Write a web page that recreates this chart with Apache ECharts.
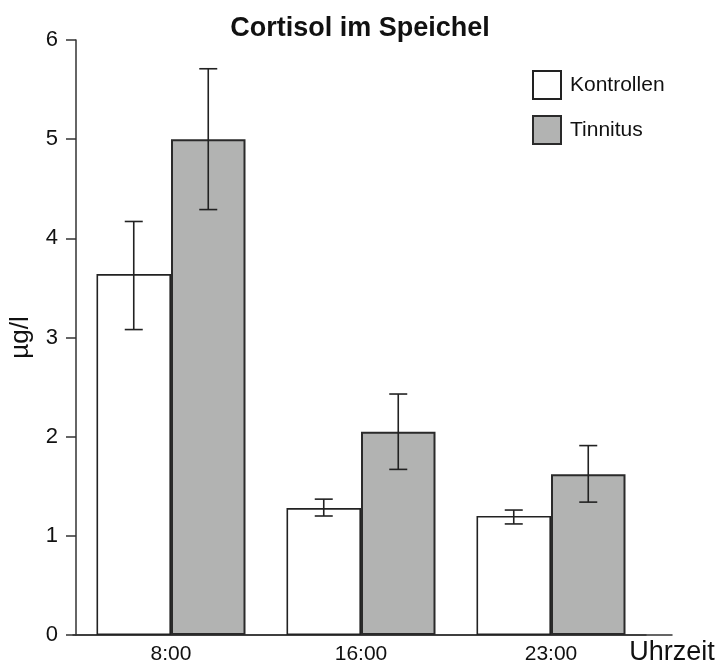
<!DOCTYPE html>
<html>
<head>
<meta charset="utf-8">
<script src="https://cdn.jsdelivr.net/npm/echarts@6/dist/echarts.min.js"></script>
<style>html,body{margin:0;padding:0;background:#fff}#c{width:720px;height:666px}</style>
</head>
<body>
<div id="c"></div>
<script>
var categories = ['8:00', '16:00', '23:00'];
var seriesNames = ['Kontrollen', 'Tinnitus'];
var kontrollen = [3.64, 1.28, 1.20];
var tinnitus = [5.00, 2.05, 1.62];
var kontrollenLow = [3.08, 1.20, 1.12];
var kontrollenHigh = [4.17, 1.37, 1.26];
var tinnitusLow = [4.29, 1.67, 1.34];
var tinnitusHigh = [5.71, 2.43, 1.91];
var yTicks = [0, 1, 2, 3, 4, 5, 6];

var BAR_W = 74.5;
var FONT = 'Liberation Sans, Arial, Helvetica, sans-serif';

function errData(lo, hi) {
  return categories.map(function (c, i) { return [i, lo[i], hi[i]]; });
}
function errRender(sign) {
  return function (params, api) {
    var x = api.value(0);
    var pLo = api.coord([x, api.value(1)]);
    var pHi = api.coord([x, api.value(2)]);
    var cx = pLo[0] + sign * BAR_W / 2;
    var cap = 9;
    var st = { stroke: '#222', lineWidth: 1.6 };
    return {
      type: 'group',
      children: [
        { type: 'line', shape: { x1: cx, y1: pLo[1], x2: cx, y2: pHi[1] }, style: st },
        { type: 'line', shape: { x1: cx - cap, y1: pHi[1], x2: cx + cap, y2: pHi[1] }, style: st },
        { type: 'line', shape: { x1: cx - cap, y1: pLo[1], x2: cx + cap, y2: pLo[1] }, style: st }
      ]
    };
  };
}

var chart = echarts.init(document.getElementById('c'), null, { renderer: 'canvas' });
chart.setOption({
  backgroundColor: '#fff',
  animation: false,
  textStyle: { fontFamily: FONT, color: '#111' },
  title: {
    text: 'Cortisol im Speichel',
    left: 'center',
    top: 10,
    textStyle: { fontFamily: FONT, fontSize: 27, fontWeight: 'bold', color: '#111' }
  },
  legend: {
    orient: 'vertical',
    left: 527,
    top: 65,
    itemWidth: 28,
    itemHeight: 28,
    itemGap: 15,
    icon: 'rect',
    data: seriesNames,
    textStyle: { fontFamily: FONT, fontSize: 21, color: '#111', padding: [0, 0, 0, 4] }
  },
  grid: [
    { left: 73, right: 74, top: 40, bottom: 31 },
    { left: 73, right: 48, top: 40, bottom: 31 }
  ],
  xAxis: [
    {
      type: 'category',
      gridIndex: 0,
      data: categories,
      axisLine: { show: true, lineStyle: { color: '#333', width: 1.5 } },
      axisTick: { show: false },
      axisLabel: { fontFamily: FONT, fontSize: 21, color: '#111', margin: 9 }
    },
    {
      type: 'value',
      gridIndex: 1,
      min: 0,
      max: 1,
      axisLine: { show: true, onZero: false, lineStyle: { color: '#333', width: 1.5 } },
      axisTick: { show: false },
      axisLabel: { show: false },
      splitLine: { show: false },
      name: 'Uhrzeit',
      nameLocation: 'end',
      nameGap: 0,
      nameTextStyle: { fontFamily: FONT, fontSize: 27, color: '#111', align: 'center', verticalAlign: 'top', padding: [4, 0, 0, 0] }
    }
  ],
  yAxis: [
    {
      type: 'value',
      gridIndex: 0,
      min: 0,
      max: 6,
      interval: 1,
      name: 'µg/l',
      nameLocation: 'middle',
      nameGap: 42,
      nameTextStyle: { fontFamily: FONT, fontSize: 26, color: '#111' },
      axisLine: { show: true, lineStyle: { color: '#333', width: 1.5 } },
      axisTick: { show: true, length: 10, lineStyle: { color: '#333', width: 1.5 } },
      axisLabel: {
        fontFamily: FONT, fontSize: 22, color: '#111', margin: 18,
        formatter: function (v) { return yTicks.indexOf(v) >= 0 ? String(v) : ''; }
      },
      splitLine: { show: false }
    },
    {
      type: 'value',
      gridIndex: 1,
      min: 0,
      max: 6,
      show: false
    }
  ],
  series: [
    {
      name: seriesNames[0],
      type: 'bar',
      xAxisIndex: 0,
      yAxisIndex: 0,
      data: kontrollen,
      barWidth: BAR_W,
      barGap: '0%',
      itemStyle: { color: '#ffffff', borderColor: '#222', borderWidth: 1.6 }
    },
    {
      name: seriesNames[1],
      type: 'bar',
      xAxisIndex: 0,
      yAxisIndex: 0,
      data: tinnitus,
      barWidth: BAR_W,
      barGap: '0%',
      itemStyle: { color: '#b2b3b2', borderColor: '#2a2a2a', borderWidth: 2 }
    },
    {
      type: 'custom',
      xAxisIndex: 0,
      yAxisIndex: 0,
      renderItem: errRender(-1),
      data: errData(kontrollenLow, kontrollenHigh),
      z: 5
    },
    {
      type: 'custom',
      xAxisIndex: 0,
      yAxisIndex: 0,
      renderItem: errRender(1),
      data: errData(tinnitusLow, tinnitusHigh),
      z: 5
    }
  ]
});
</script>
</body>
</html>
